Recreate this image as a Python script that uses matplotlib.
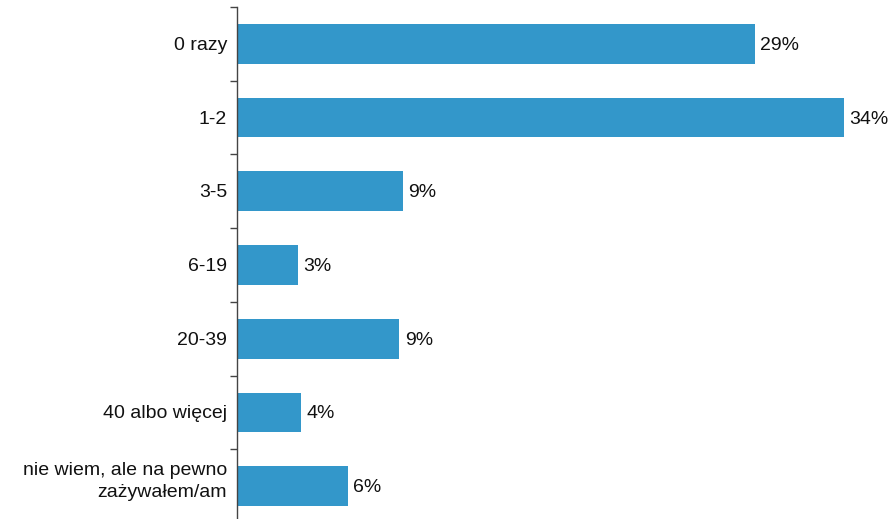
import matplotlib
matplotlib.use("Agg")
import matplotlib.pyplot as plt
import numpy as np

plt.rcParams['font.family'] = ['Liberation Sans', 'DejaVu Sans']

categories = ["0 razy", "1-2", "3-5", "6-19", "20-39", "40 albo więcej",
              "nie wiem, ale na pewno\nzażywałem/am"]
values = [29.0, 34.0, 9.3, 3.4, 9.1, 3.6, 6.2]
labels = ["29%", "34%", "9%", "3%", "9%", "4%", "6%"]

W, H = 893, 519
fig = plt.figure(figsize=(W / 100, H / 100), dpi=100)
left_px, right_px = 237, 893
top_px, bot_px = 7, 523
ax = fig.add_axes([left_px / W, (H - bot_px) / H, (right_px - left_px) / W, (bot_px - top_px) / H])

n = len(categories)
y = np.arange(n)
ax.barh(y, values, height=0.54, color='#3397CA', edgecolor='none')
ax.set_ylim(n - 0.5, -0.5)
ax.set_xlim(0, (right_px - left_px) / ((844 - 237) / 34.0))

for yi, v, lab in zip(y, values, labels):
    ax.text(v + 0.3, yi + 0.02, lab, va='center', ha='left', fontsize=14, color='#111111')

ax.set_yticks(np.arange(-0.5, n, 1.0))
ax.set_yticklabels([])
ax.tick_params(axis='y', which='major', length=5, width=1, color='#444444', direction='out')
for yi, c in zip(y, categories):
    dy = -0.06 if "\n" in c else 0.02
    ax.text(-0.55, yi + dy, c, va='center', ha='right', fontsize=14, color='#111111',
            transform=ax.transData, linespacing=1.4)

ax.set_xticks([])
for s in ['top', 'right', 'bottom']:
    ax.spines[s].set_visible(False)
ax.spines['left'].set_color('#444444')
ax.spines['left'].set_linewidth(1)

fig.savefig("out.png", dpi=100)
